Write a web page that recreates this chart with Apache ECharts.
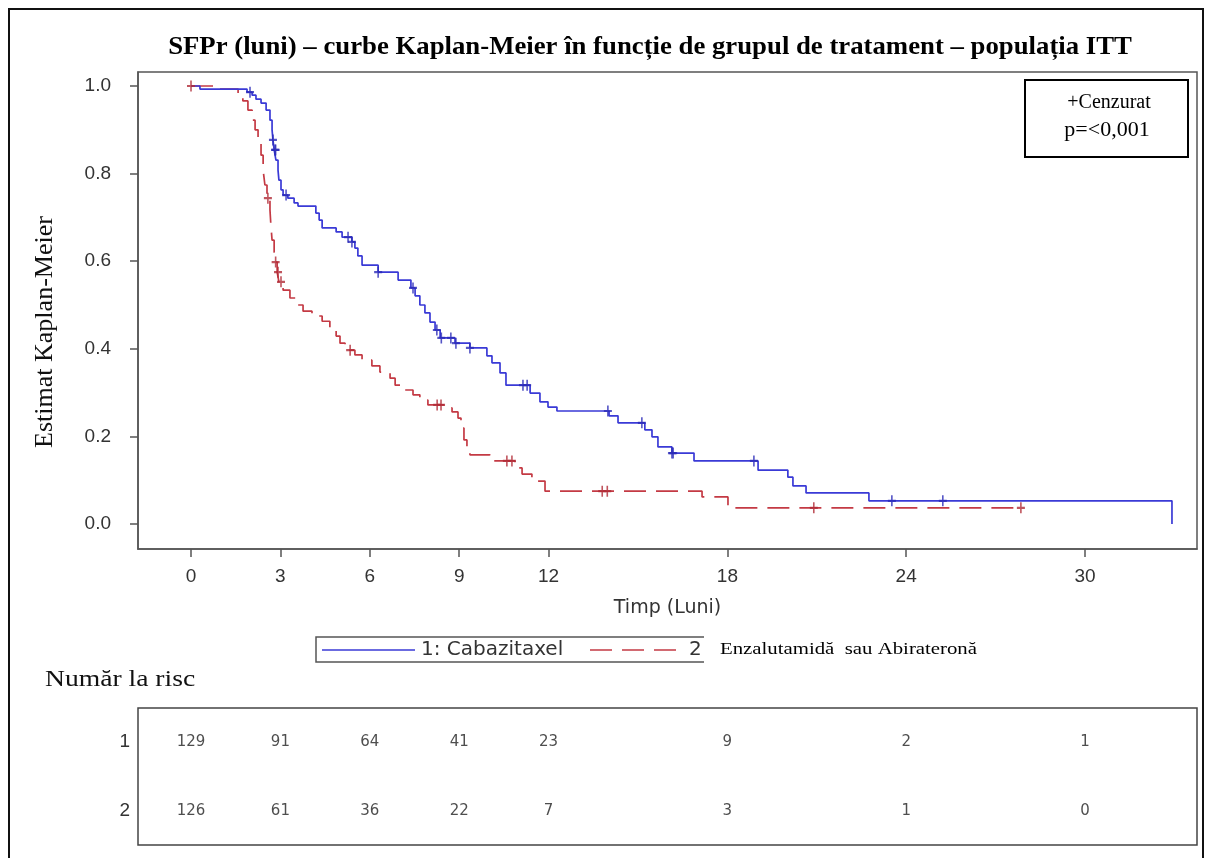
<!DOCTYPE html>
<html>
<head>
<meta charset="utf-8">
<script src="https://cdn.jsdelivr.net/npm/echarts@6/dist/echarts.min.js"></script>
<style>html,body{margin:0;padding:0;background:#fff;}#c{width:1208px;height:858px;}</style>
</head>
<body>
<div id="c"></div>
<script>
// ---------- data ----------
const titleText = 'SFPr (luni) – curbe Kaplan-Meier în funcție de grupul de tratament – populația ITT';
const seriesNames = ['1: Cabazitaxel', '2: Enzalutamidă sau Abirateronă'];
const xTickValues = [0, 3, 6, 9, 12, 18, 24, 30];
const yTickValues = [0, 0.2, 0.4, 0.6, 0.8, 1.0];

const blueTimes = [0, 0.3, 1.88, 2.05, 2.18, 2.35, 2.52, 2.65, 2.72, 2.75, 2.79, 2.85, 2.92, 2.95, 3.02, 3.09, 3.25, 3.46, 3.59, 4.19, 4.30, 4.40, 4.87, 5.07, 5.40, 5.50, 5.60, 5.74, 6.28, 6.95, 7.38, 7.52, 7.68, 7.85, 8.02, 8.19, 8.36, 8.86, 9.36, 9.93, 10.10, 10.37, 10.57, 11.38, 11.71, 11.98, 12.28, 14.03, 14.33, 15.23, 15.47, 15.67, 16.14, 16.88, 19.03, 20.03, 20.20, 20.64, 22.75, 32.92];
const blueSurv  = [1.0, 0.993, 0.986, 0.979, 0.970, 0.961, 0.945, 0.922, 0.900, 0.877, 0.854, 0.831, 0.808, 0.785, 0.763, 0.751, 0.744, 0.733, 0.726, 0.710, 0.694, 0.676, 0.667, 0.655, 0.644, 0.630, 0.612, 0.591, 0.575, 0.557, 0.539, 0.521, 0.500, 0.482, 0.461, 0.443, 0.425, 0.413, 0.402, 0.384, 0.368, 0.345, 0.317, 0.299, 0.279, 0.267, 0.258, 0.247, 0.231, 0.215, 0.199, 0.176, 0.162, 0.144, 0.123, 0.107, 0.087, 0.071, 0.053, 0.0];

const redTimes = [0, 0.74, 1.58, 1.74, 1.91, 2.05, 2.15, 2.25, 2.35, 2.42, 2.48, 2.55, 2.65, 2.68, 2.72, 2.79, 2.82, 2.89, 2.95, 3.09, 3.32, 3.56, 3.76, 4.06, 4.40, 4.66, 4.87, 5.0, 5.17, 5.50, 5.74, 6.07, 6.34, 6.68, 6.85, 7.18, 7.45, 7.68, 7.95, 8.52, 8.76, 8.96, 9.06, 9.16, 9.26, 9.36, 10.03, 10.87, 11.11, 11.44, 11.88, 17.15, 18.02, 27.85];
const redSurv  = [1.0, 0.993, 0.979, 0.966, 0.945, 0.922, 0.900, 0.872, 0.842, 0.808, 0.774, 0.744, 0.717, 0.683, 0.648, 0.621, 0.598, 0.575, 0.553, 0.534, 0.516, 0.500, 0.486, 0.475, 0.463, 0.447, 0.429, 0.413, 0.397, 0.386, 0.374, 0.361, 0.347, 0.333, 0.317, 0.306, 0.295, 0.283, 0.272, 0.265, 0.256, 0.242, 0.219, 0.192, 0.169, 0.158, 0.144, 0.128, 0.114, 0.098, 0.075, 0.062, 0.037, 0.037];

const blueCensorT = [1.98, 2.75, 2.82, 2.84, 3.19, 5.27, 5.40, 6.28, 7.45, 8.25, 8.40, 8.72, 8.89, 9.36, 11.14, 11.28, 13.99, 15.13, 16.14, 16.18, 18.89, 23.52, 25.23];
const blueCensorS = [0.986, 0.877, 0.854, 0.854, 0.751, 0.655, 0.644, 0.575, 0.539, 0.443, 0.425, 0.425, 0.413, 0.402, 0.317, 0.317, 0.258, 0.231, 0.162, 0.162, 0.144, 0.053, 0.053];
const redCensorT = [0, 2.58, 2.84, 2.92, 3.02, 5.34, 8.26, 8.39, 10.6, 10.77, 13.8, 13.97, 20.9, 27.85];
const redCensorS = [1.0, 0.744, 0.598, 0.575, 0.553, 0.397, 0.272, 0.272, 0.144, 0.144, 0.075, 0.075, 0.037, 0.037];

const riskTimes = [0, 3, 6, 9, 12, 18, 24, 30];
const riskArm1 = [129, 91, 64, 41, 23, 9, 2, 1];
const riskArm2 = [126, 61, 36, 22, 7, 3, 1, 0];
const riskRowLabels = ['2', '1'];

// ---------- build ----------
const zip = (a, b) => a.map((v, i) => [v, b[i]]);
const BLUE = '#3a3ad6';
const RED = '#c43a44';
const plusPath = 'path://M-1.2,-6h2.4v12h-2.4zM-6,-1.2h12v2.4h-12z';
const riskData = [];
riskTimes.forEach((t, i) => {
  riskData.push([t, '1', riskArm1[i]]);
  riskData.push([t, '2', riskArm2[i]]);
});
const tickFont = 'Liberation Sans, Arial, sans-serif';

const chart = echarts.init(document.getElementById('c'));
chart.setOption({
  animation: false,
  backgroundColor: '#fff',
  grid: [
    { left: 138, right: 11, top: 72, height: 477, show: true, borderColor: '#555', borderWidth: 1.5, backgroundColor: 'transparent' },
    { left: 138, right: 11, top: 708, height: 137, show: true, borderColor: '#444', borderWidth: 1.5, backgroundColor: 'transparent' }
  ],
  xAxis: [
    {
      type: 'value', gridIndex: 0, min: -1.779, max: 33.76,
      axisLine: { show: true, onZero: false, lineStyle: { color: '#555', width: 1.5 } },
      axisTick: { show: true, length: 8, customValues: xTickValues, lineStyle: { color: '#555', width: 1.5 } },
      axisLabel: { customValues: xTickValues, margin: 18, color: '#333', fontFamily: tickFont, fontSize: 19 },
      splitLine: { show: false },
      name: 'Timp (Luni)', nameLocation: 'middle', nameGap: 50,
      nameTextStyle: { fontFamily: 'DejaVu Sans, sans-serif', fontSize: 19, color: '#333' }
    },
    { type: 'value', gridIndex: 1, min: -1.779, max: 33.76, show: false }
  ],
  yAxis: [
    {
      type: 'value', gridIndex: 0, min: -0.057, max: 1.032,
      axisLine: { show: true, onZero: false, lineStyle: { color: '#555', width: 1.5 } },
      axisTick: { show: true, length: 8, customValues: yTickValues, lineStyle: { color: '#555', width: 1.5 } },
      axisLabel: { customValues: yTickValues, margin: 27, color: '#333', fontFamily: tickFont, fontSize: 19, formatter: v => v.toFixed(1) },
      splitLine: { show: false }
    },
    {
      type: 'category', gridIndex: 1, data: riskRowLabels,
      axisLine: { show: false }, axisTick: { show: false },
      axisLabel: { margin: 8, color: '#333', fontFamily: tickFont, fontSize: 19 }
    }
  ],
  series: [
    {
      name: seriesNames[0], type: 'line', xAxisIndex: 0, yAxisIndex: 0, step: 'end', showSymbol: false,
      data: zip(blueTimes, blueSurv), lineStyle: { color: BLUE, width: 1.7 }, itemStyle: { color: BLUE }, z: 3
    },
    {
      name: seriesNames[1], type: 'line', xAxisIndex: 0, yAxisIndex: 0, step: 'end', showSymbol: false,
      data: zip(redTimes, redSurv), lineStyle: { color: RED, width: 1.7, type: [22, 10] }, itemStyle: { color: RED }, z: 2
    },
    {
      type: 'scatter', xAxisIndex: 0, yAxisIndex: 0, symbol: plusPath, symbolSize: [8, 11],
      data: zip(blueCensorT, blueCensorS), itemStyle: { color: '#2a2ab8' }, z: 4
    },
    {
      type: 'scatter', xAxisIndex: 0, yAxisIndex: 0, symbol: plusPath, symbolSize: [8, 11],
      data: zip(redCensorT, redCensorS), itemStyle: { color: '#b02a36' }, z: 4
    },
    {
      type: 'scatter', xAxisIndex: 1, yAxisIndex: 1, symbolSize: 1,
      data: riskData, itemStyle: { color: 'rgba(0,0,0,0)' },
      label: { show: true, position: 'inside', formatter: p => String(p.value[2]), color: '#222', fontFamily: 'DejaVu Sans, sans-serif', fontSize: 15 }
    }
  ],
  graphic: [
    { type: 'rect', shape: { x: 9, y: 9, width: 1194, height: 880 }, style: { fill: 'none', stroke: '#111', lineWidth: 2 }, silent: true },
    { type: 'text', x: 650, y: 48, scaleX: 1.07, style: { text: titleText, font: 'bold 25px "Liberation Serif", serif', fill: '#000', textAlign: 'center', textVerticalAlign: 'middle' } },
    { type: 'text', x: 45, y: 332, rotation: Math.PI / 2, style: { text: 'Estimat Kaplan-Meier', font: '26px "Liberation Serif", serif', fill: '#111', textAlign: 'center', textVerticalAlign: 'middle' } },
    { type: 'rect', shape: { x: 1025, y: 80, width: 163, height: 77 }, style: { fill: '#fff', stroke: '#000', lineWidth: 2 }, z: 10 },
    { type: 'text', x: 1109, y: 103, z: 11, style: { text: '+Cenzurat', font: '20px "Liberation Serif", serif', fill: '#000', textAlign: 'center', textVerticalAlign: 'middle' } },
    { type: 'text', x: 1107, y: 131, z: 11, scaleX: 1.1, style: { text: 'p=<0,001', font: '20px "Liberation Serif", serif', fill: '#000', textAlign: 'center', textVerticalAlign: 'middle' } },
    // legend
    { type: 'rect', shape: { x: 316, y: 637, width: 394, height: 25 }, style: { fill: '#fff', stroke: '#555', lineWidth: 1.5 } },
    { type: 'line', shape: { x1: 322, y1: 650, x2: 415, y2: 650 }, style: { stroke: BLUE, lineWidth: 1.7 } },
    { type: 'text', x: 421, y: 650, style: { text: seriesNames[0], font: '20px "DejaVu Sans", sans-serif', fill: '#333', textAlign: 'left', textVerticalAlign: 'middle' } },
    { type: 'line', shape: { x1: 590, y1: 650, x2: 685, y2: 650 }, style: { stroke: RED, lineWidth: 1.7, lineDash: [22, 10] } },
    { type: 'text', x: 689, y: 650, style: { text: seriesNames[1], font: '20px "DejaVu Sans", sans-serif', fill: '#333', textAlign: 'left', textVerticalAlign: 'middle' } },
    { type: 'rect', shape: { x: 704, y: 634, width: 420, height: 32 }, style: { fill: '#fff' }, z: 5 },
    { type: 'text', x: 720, y: 650, z: 6, scaleX: 1.3, style: { text: 'Enzalutamidă  sau Abirateronă', font: '16px "Liberation Serif", serif', fill: '#000', textAlign: 'left', textVerticalAlign: 'middle' } },
    { type: 'text', x: 45, y: 680, scaleX: 1.15, style: { text: 'Număr la risc', font: '24px "Liberation Serif", serif', fill: '#111', textAlign: 'left', textVerticalAlign: 'middle' } }
  ]
});
</script>
</body>
</html>
